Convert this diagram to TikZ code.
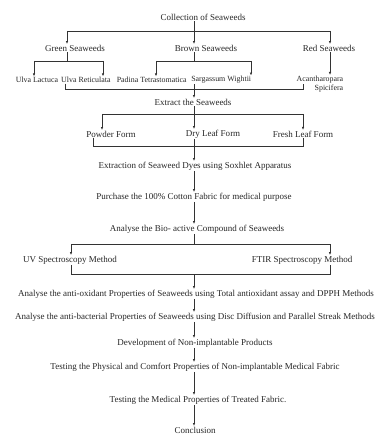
\documentclass[tikz,border=0pt]{standalone}
\usepackage{fontspec}
\setmainfont{Liberation Serif}
\usetikzlibrary{arrows.meta,positioning}

\begin{document}
\begin{tikzpicture}[x=1pt,y=-1pt,
    txt/.style={inner sep=0.6pt, font=\fontsize{9}{10}\selectfont, text=black!85},
    sp/.style={txt, font=\fontsize{7.9}{9.5}\selectfont},
    ln/.style={draw=black!80, line width=0.6pt},
    arr/.style={ln, -{Latex[length=3pt,width=2.4pt]}}]
    \useasboundingbox (0,0) rectangle (379,438);
    % texts
    \node[txt] (coll) at (203,17) {Collection of Seaweeds};
    \node[txt] (green) at (75,48) {Green Seaweeds};
    \node[txt] (brown) at (206,48) {Brown Seaweeds};
    \node[txt] (red) at (329,48) {Red Seaweeds};
    \node[sp, anchor=west] (ulvaL) at (15,80) {Ulva Lactuca};
    \node[sp, right=1.5pt of ulvaL] (ulvaR) {Ulva Reticulata};
    \node[sp, anchor=west] (padina) at (116,80) {Padina Tetrastomatica};
    \node[sp, right=3pt of padina] (sarg) {Sargassum Wightii};
    \node[sp, align=right, anchor=north east] (acan) at (344,75) {Acantharopara\\Spicifera};
    \node[txt] (extr) at (193,102) {Extract the Seaweeds};
    \node[txt] (powder) at (111,134) {Powder Form};
    \node[txt] (dry) at (213,134) {Dry Leaf Form};
    \node[txt] (fresh) at (303,134) {Fresh Leaf Form};
    \node[txt] (dyes) at (195,166) {Extraction of Seaweed Dyes using Soxhlet Apparatus};
    \node[txt] (cotton) at (194,197) {Purchase the 100\% Cotton Fabric for medical purpose};
    \node[txt] (bio) at (197,229) {Analyse the Bio- active Compound of Seaweeds};
    \node[txt] (uv) at (70,260) {UV Spectroscopy Method};
    \node[txt] (ftir) at (302,260) {FTIR Spectroscopy Method};
    \node[txt] (aox) at (196,294) {Analyse the anti-oxidant Properties of Seaweeds using Total antioxidant assay and DPPH Methods};
    \node[txt] (abac) at (195,317) {Analyse the anti-bacterial Properties of Seaweeds using Disc Diffusion and Parallel Streak Methods};
    \node[txt] (dev) at (195,343) {Development of Non-implantable Products};
    \node[txt] (phys) at (195,367) {Testing the Physical and Comfort Properties of Non-implantable Medical Fabric};
    \node[txt] (med) at (198,400) {Testing the Medical Properties of Treated Fabric.};
    \node[txt] (concl) at (195,430) {Conclusion};
    % forks
    \coordinate (fL) at (67,31);  \coordinate (fM) at (194,31);  \coordinate (fR) at (330,31);
    \coordinate (gL) at (34,61);  \coordinate (gM) at (67,61);   \coordinate (gR) at (103,61);
    \coordinate (bL) at (156,61); \coordinate (bM) at (194,61);  \coordinate (bR) at (251,61);
    \coordinate (sL) at (65,89);  \coordinate (sM) at (194,89);  \coordinate (sR) at (303,89);
    \coordinate (xL) at (102,114);\coordinate (xM) at (194,114); \coordinate (xR) at (303,114);
    \coordinate (yL) at (93,146); \coordinate (yM) at (194,146); \coordinate (yR) at (303,146);
    \coordinate (uL) at (71,244); \coordinate (uM) at (194,244); \coordinate (uR) at (330,244);
    \coordinate (vL) at (71,274); \coordinate (vM) at (194,274); \coordinate (vR) at (330,274);
    % collection -> colours
    \draw[ln] (coll.south -| fM) -- (fM);
    \draw[ln] (fL) -- (fR);
    \draw[arr] (fL) -- (fL |- green.north);
    \draw[arr] (fM) -- (fM |- brown.north);
    \draw[arr] (fR) -- (fR |- red.north);
    % colours -> species
    \draw[ln] (gM |- green.south) -- (gM);
    \draw[ln] (gL) -- (gR);
    \draw[arr] (gL) -- (gL |- ulvaL.north);
    \draw[arr] (gR) -- (gR |- ulvaR.north);
    \draw[ln] (bM |- brown.south) -- (bM);
    \draw[ln] (bL) -- (bR);
    \draw[arr] (bL) -- (bL |- padina.north);
    \draw[arr] (bR) -- (bR |- sarg.north);
    \draw[arr] (fR |- red.south) -- (fR |- acan.north);
    % species -> extract
    \draw[ln] (sL |- ulvaL.south) -- (sL) -- (sR) -- (sR |- ulvaL.south);
    \draw[ln] (sM |- sarg.south) -- (sM);
    \draw[arr] (sM) -- (sM |- extr.north);
    % extract -> forms
    \draw[ln] (xM |- extr.south) -- (xM);
    \draw[ln] (xL) -- (xR);
    \draw[arr] (xL) -- (xL |- powder.north);
    \draw[arr] (xM) -- (xM |- dry.north);
    \draw[arr] (xR) -- (xR |- fresh.north);
    \draw[ln] (yL |- powder.south) -- (yL) -- (yR) -- (yR |- fresh.south);
    \draw[ln] (yM |- dry.south) -- (yM);
    \draw[arr] (yM) -- (yM |- dyes.north);
    % bio -> methods
    \draw[ln] (uM |- bio.south) -- (uM);
    \draw[ln] (uL) -- (uR);
    \draw[arr] (uL) -- (uL |- uv.north);
    \draw[arr] (uR) -- (uR |- ftir.north);
    \draw[ln] (vL |- uv.south) -- (vL) -- (vR) -- (vR |- ftir.south);
    \draw[arr] (vM) -- (vM |- aox.north);
    % main line
    \foreach \a/\b in {dyes/cotton, cotton/bio, aox/abac, abac/dev, dev/phys, phys/med, med/concl}
        \draw[arr] (\a.south -| vM) -- (\b.north -| vM);
\end{tikzpicture}
\end{document}
